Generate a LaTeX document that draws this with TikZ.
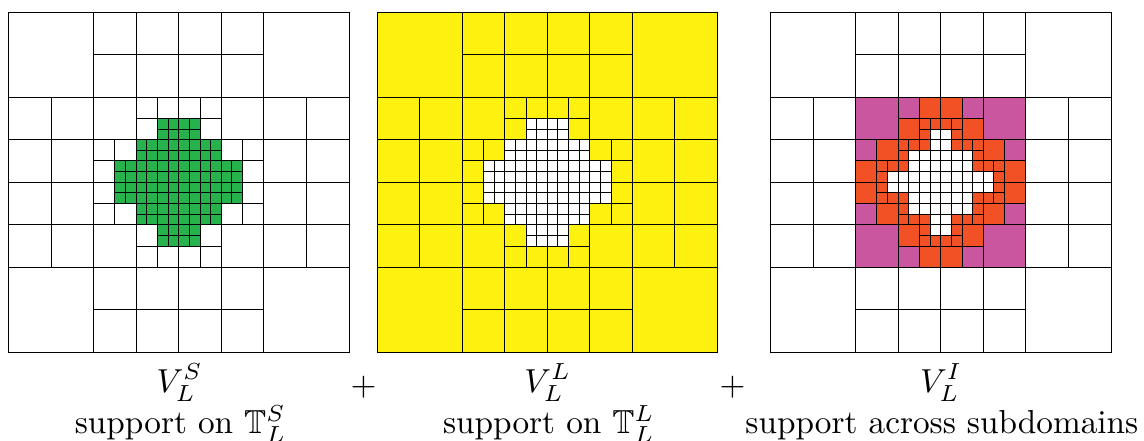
\documentclass[tikz,border=0pt]{standalone}
\usepackage{amssymb}
\definecolor{meshgreen}{HTML}{27B34B}
\definecolor{meshyellow}{HTML}{FFF10F}
\definecolor{meshorange}{HTML}{F15124}
\definecolor{meshpurple}{HTML}{C9569F}
% every mesh line once, with its mirror image across the diagonal: position/from/to
\newcommand{\meshlines}{%
  \draw[meshline] (0,0) rectangle (32,32);
  \foreach \p/\a/\b in {8/0/32,24/0/32,12/0/32,16/0/32,20/0/32,4/8/24,28/8/24,14/8/24,18/8/24,10/12/20,22/12/20,11/14/18,21/14/18,13/12/20,19/12/20,15/10/22,17/10/22}{
    \draw[meshline] (\p,\a) -- (\p,\b) (\a,\p) -- (\b,\p);
  }
}
\newcommand{\crosspath}{(14,10) -- (18,10) -- (18,12) -- (20,12) -- (20,14) -- (22,14) -- (22,18) -- (20,18) -- (20,20) -- (18,20) -- (18,22) -- (14,22) -- (14,20) -- (12,20) -- (12,18) -- (10,18) -- (10,14) -- (12,14) -- (12,12) -- (14,12) -- cycle}
\tikzset{
  meshline/.style={draw=black,line width=0.27pt},
  caption/.style={anchor=base,inner sep=0pt,outer sep=0pt,scale=0.95,font=\fontsize{10}{12}\selectfont},
}
\begin{document}
\begin{tikzpicture}[x=3.04pt,y=-3.04pt]
\useasboundingbox (0pt,0pt) rectangle (326.86pt,-126pt);
% panel 1: the inner region of small cells
\begin{scope}[shift={(2.43pt,-3.43pt)}]
  \fill[meshgreen] \crosspath;
  \meshlines
\end{scope}
% panel 2: everything but the inner region
\begin{scope}[shift={(107.72pt,-3.43pt)}]
  \fill[meshyellow] (0,0) rectangle (32,32);
  \fill[white] \crosspath;
  \meshlines
\end{scope}
% panel 3: across the subdomains
\begin{scope}[shift={(220.15pt,-3.43pt)}]
  \fill[meshpurple] (8,8) rectangle (24,24);
  \fill[meshorange] (14,8) -- (18,8) -- (18,10) -- (20,10) -- (20,12) -- (22,12) -- (22,14) -- (24,14) -- (24,18) -- (22,18) -- (22,20) -- (20,20) -- (20,22) -- (18,22) -- (18,24) -- (14,24) -- (14,22) -- (12,22) -- (12,20) -- (10,20) -- (10,18) -- (8,18) -- (8,14) -- (10,14) -- (10,12) -- (12,12) -- (12,10) -- (14,10) -- cycle;
  \fill[white] (15,11) -- (17,11) -- (17,13) -- (19,13) -- (19,15) -- (21,15) -- (21,17) -- (19,17) -- (19,19) -- (17,19) -- (17,21) -- (15,21) -- (15,19) -- (13,19) -- (13,17) -- (11,17) -- (11,15) -- (13,15) -- (13,13) -- (15,13) -- cycle;
  \meshlines
\end{scope}
% captions
\node[caption] (va) at (51.3pt,-112pt) {$V_L^S$};
\node[caption] (vb) at (156.5pt,-112pt) {$V_L^L$};
\node[caption] (vc) at (268.9pt,-112pt) {$V_L^I$};
\node[caption] (pa) at (103.9pt,-113pt) {$+$};
\node[caption] (pb) at (209.3pt,-113pt) {$+$};
\node[caption] (sa) at (51.6pt,-123.9pt) {support on $\mathbb{T}_L^S$};
\node[caption] (sb) at (156.8pt,-123.9pt) {support on $\mathbb{T}_L^L$};
\node[caption] (sc) at (269.1pt,-123.9pt) {support across subdomains};
\end{tikzpicture}
\end{document}
